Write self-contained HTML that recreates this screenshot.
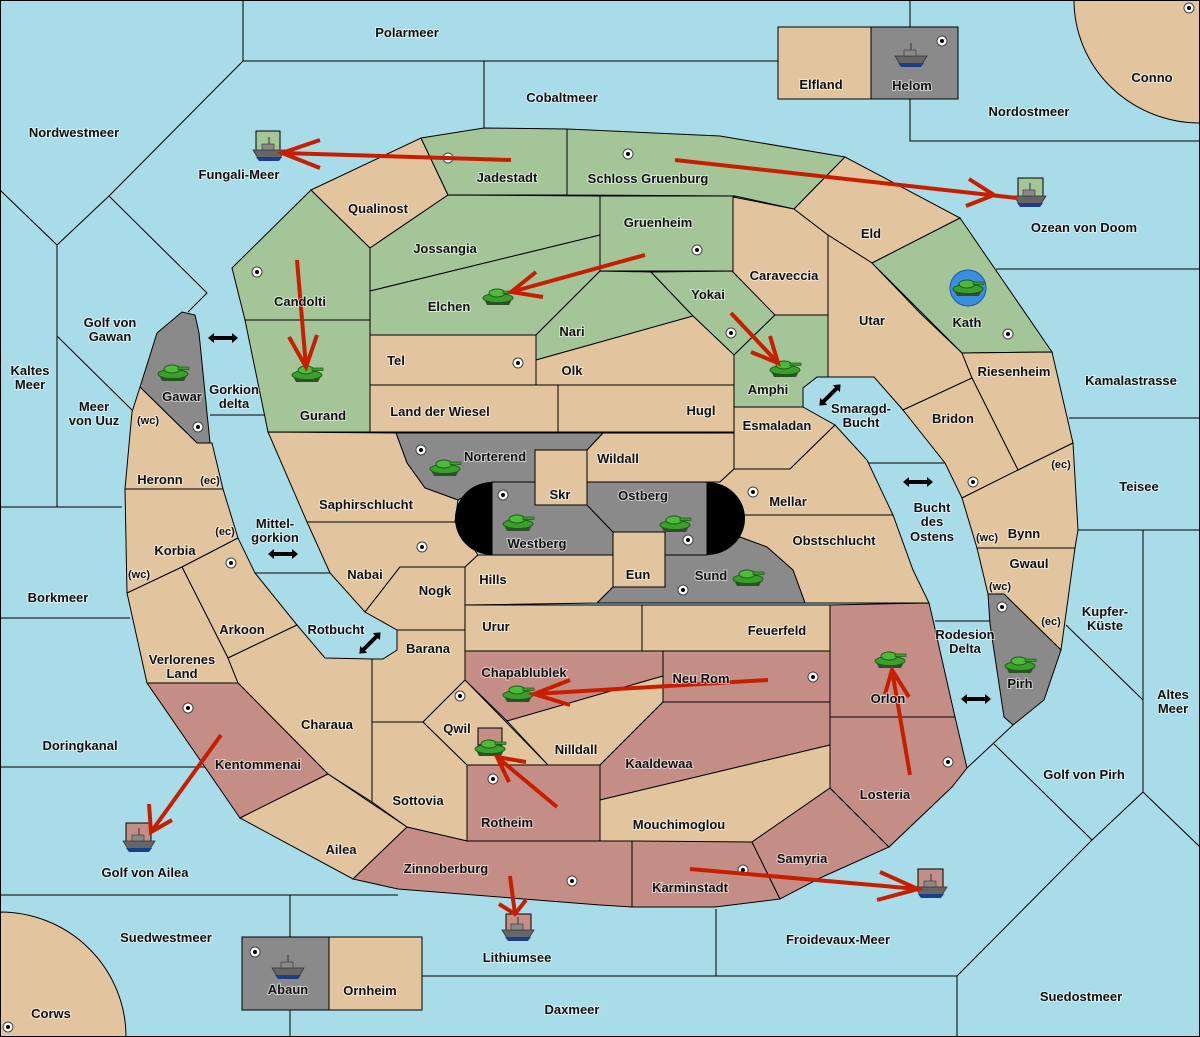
<!DOCTYPE html>
<html><head><meta charset="utf-8"><style>
html,body{margin:0;padding:0;background:#a9dce9}
svg{display:block}
text{font-family:"Liberation Sans",sans-serif;font-weight:bold;font-size:13px;fill:#111;text-anchor:middle;paint-order:stroke;stroke:rgba(255,255,255,0.55);stroke-width:2px}
.s{font-size:11px}
.l{stroke:#000;stroke-width:1;fill:none}
.t{fill:#e2c59e;stroke:#000;stroke-width:1}
.g{fill:#a3c598;stroke:#000;stroke-width:1}
.r{fill:#c48e86;stroke:#000;stroke-width:1}
.y{fill:#8a8a8a;stroke:#000;stroke-width:1}
.ar{stroke:#c81e00;stroke-width:4;fill:none;stroke-linecap:butt}
</style></head><body>
<svg width="1200" height="1037" viewBox="0 0 1200 1037" xmlns="http://www.w3.org/2000/svg">
<defs>
<g id="tank">
<path d="M-14,2 L14,2 L11,8 L-11,8 Z" fill="#2f4f2a"/>
<ellipse cx="0" cy="1" rx="15" ry="4.5" fill="#39a02c" stroke="#1f5a18" stroke-width="1"/>
<ellipse cx="-1" cy="-4" rx="8" ry="4" fill="#4cbb3a" stroke="#1f5a18" stroke-width="1"/>
<rect x="5" y="-6" width="11" height="2.5" fill="#3aa02c" stroke="#1f5a18" stroke-width="0.7"/>
</g>
<g id="ship">
<path d="M-16,0 L16,0 L11,8 L-11,8 Z" fill="#666" stroke="#333" stroke-width="0.8"/>
<path d="M-13,7 L13,7 L10,11 L-10,11 Z" fill="#1c3f8c"/>
<rect x="-7" y="-6" width="12" height="6" fill="#888" stroke="#333" stroke-width="0.6"/>
<line x1="0" y1="-13" x2="0" y2="-6" stroke="#333" stroke-width="1"/>
</g>
<g id="dot"><circle r="5" fill="#fff" stroke="#444" stroke-width="1"/><circle r="2" fill="#000"/></g>
<g id="da"><path d="M-15,0 L-9,-5 L-9,-2 L9,-2 L9,-5 L15,0 L9,5 L9,2 L-9,2 L-9,5 Z" fill="#000"/></g>
</defs>
<rect width="1200" height="1037" fill="#a9dce9"/>
<g class="l">
<path d="M243,0 V61 H778"/>
<path d="M243,61 L109,196 L57,245 L0,190"/>
<path d="M57,245 V507"/>
<path d="M109,196 L207,293 L188,312"/>
<path d="M57,336 L134,412"/>
<path d="M0,507 H122"/>
<path d="M0,618 H130"/>
<path d="M0,767 H205"/>
<path d="M0,895 H398"/>
<path d="M290,895 V937 M290,1010 V1037"/>
<path d="M422,976 H957 V1037"/>
<path d="M716,909 V976"/>
<path d="M484,61 V128"/>
<path d="M910,0 V27 M910,99 V141 H1200"/>
<path d="M996,269 H1200 M1069,418 H1200 M1078,530 H1200"/>
<path d="M1143,530 V792 L1200,847 M1143,792 L1092,840 L957,976 M1092,840 L994,744"/>
<path d="M1066,625 L1143,700"/>
<path d="M1013,725 L967,768"/>
<path d="M210,415 H266 M255,573 H330 M935,621 H990 M867,463 H945"/>
</g>
<path d="M1074,0 A126,123 0 0 0 1200,123 V0 Z" class="t"/>
<path d="M0,912 A126,125 0 0 1 126,1037 H0 Z" class="t"/>
<rect x="778" y="27" width="93" height="72" class="t"/>
<rect x="871" y="27" width="87" height="72" class="y"/>
<rect x="242" y="937" width="87" height="73" class="y"/>
<rect x="329" y="937" width="93" height="73" class="t"/>
<polygon class="g" points="232,268 311,190 370,248 370,320 245,320"/>
<polygon class="g" points="245,320 370,320 370,432 268,432"/>
<polygon class="t" points="311,190 421,138 448,195 370,248"/>
<polygon class="g" points="421,138 484,128 567,129 567,195 448,195"/>
<polygon class="g" points="567,129 720,136 845,157 794,209 735,196 567,195"/>
<polygon class="g" points="370,248 448,195 600,196 600,235 370,291"/>
<polygon class="g" points="370,291 600,235 600,271 536,335 370,335"/>
<polygon class="g" points="600,196 735,196 735,271 600,271"/>
<polygon class="g" points="600,271 651,272 693,316 536,360 536,335"/>
<polygon class="g" points="651,272 735,271 775,315 734,355 693,316"/>
<polygon class="g" points="734,355 775,315 828,315 828,377 817,377 803,388 803,407 734,407"/>
<polygon class="t" points="370,335 536,335 536,385 370,385"/>
<polygon class="t" points="536,360 693,316 734,355 734,385 536,385"/>
<polygon class="t" points="370,385 558,385 558,432 370,432"/>
<polygon class="t" points="558,385 734,385 734,432 558,432"/>
<polygon class="t" points="733,197 794,209 828,235 828,315 775,315 733,272"/>
<polygon class="t" points="794,209 845,157 960,218 872,263 828,235"/>
<polygon class="t" points="828,235 872,263 920,313 962,353 972,378 903,410 874,377 828,377"/>
<polygon class="g" points="872,263 960,218 1052,352 962,353"/>
<polygon class="t" points="962,353 1052,352 1073,443 1018,470 972,378"/>
<polygon class="t" points="903,410 972,378 1018,470 962,498 945,463"/>
<polygon class="t" points="962,498 1018,470 1073,443 1078,530 1075,548 977,548"/>
<polygon class="t" points="977,548 1075,548 1061,650 1004,594 988,594"/>
<polygon class="y" points="988,594 1004,594 1061,650 1044,700 1013,725 1004,717 990,624"/>
<polygon class="t" points="734,407 803,407 835,425 790,469 734,469"/>
<polygon class="t" points="587,450 603,433 734,433 734,469 720,482 587,482"/>
<polygon class="t" points="707,482 720,482 734,469 790,469 835,425 867,460 893,515 745,515 707,518"/>
<polygon class="t" points="707,518 745,515 893,515 913,570 929,603 805,603 793,570 767,547 740,537 707,555"/>
<polygon class="y" points="396,433 603,433 587,450 535,450 535,482 492,482 458,500 425,488 407,463"/>
<polygon class="t" points="268,432 396,433 407,463 425,488 458,500 455,522 307,522"/>
<polygon class="t" points="307,522 455,522 478,555 465,567 400,567 365,612 330,573"/>
<polygon class="t" points="400,567 465,567 465,630 397,630 365,612"/>
<polygon class="t" points="478,555 613,555 613,587 597,603 465,605 465,567"/>
<polygon class="y" points="492,482 535,482 535,505 587,505 613,532 613,555 492,555"/>
<polygon class="y" points="587,482 707,482 707,555 665,555 665,532 613,532 587,505"/>
<rect x="535" y="450" width="52" height="55" class="t"/>
<rect x="613" y="532" width="52" height="55" class="t"/>
<polygon class="y" points="613,587 597,603 805,603 793,570 767,547 740,537 707,555 665,555 665,587"/>
<path d="M492,482 A37,36.5 0 0 0 492,555 Z" fill="#000"/>
<path d="M707,482 A38,36.5 0 0 1 707,555 Z" fill="#000"/>
<polygon class="t" points="465,605 642,605 642,651 465,651"/>
<polygon class="t" points="642,605 830,605 830,651 642,651"/>
<polygon class="t" points="397,630 465,630 465,680 423,722 372,722 372,659 383,659 397,650"/>
<polygon class="y" points="157,333 182,312 195,315 199,333 210,443 197,443 140,387"/>
<polygon class="t" points="132,412 140,387 197,443 212,443 223,489 125,489"/>
<polygon class="t" points="125,489 223,489 238,538 182,567 127,593"/>
<polygon class="t" points="182,567 238,538 255,573 297,625 228,658"/>
<polygon class="t" points="127,593 182,567 228,658 238,683 147,683"/>
<polygon class="t" points="228,658 297,625 325,658 372,659 372,802 328,774 238,683"/>
<polygon class="r" points="147,683 238,683 328,774 240,818"/>
<polygon class="t" points="240,818 328,774 407,827 353,879"/>
<polygon class="t" points="372,722 423,722 467,765 467,841 407,827 372,802"/>
<polygon class="t" points="465,680 548,765 467,765 423,722"/>
<polygon class="r" points="465,651 663,651 663,676 507,721 465,680"/>
<polygon class="r" points="663,651 830,651 830,702 663,702"/>
<polygon class="t" points="507,721 663,676 663,702 600,765 548,765"/>
<polygon class="r" points="663,702 830,702 830,745 600,800 600,765"/>
<polygon class="r" points="467,765 600,765 600,841 467,841"/>
<polygon class="t" points="600,800 830,745 830,788 752,842 600,842"/>
<polygon class="r" points="353,879 407,827 467,841 632,841 632,907 600,905 398,889"/>
<polygon class="r" points="632,841 752,842 780,899 715,907 632,907"/>
<polygon class="r" points="752,842 830,788 889,847 820,878 780,899"/>
<polygon class="r" points="830,717 955,717 967,768 952,787 889,847 830,788"/>
<polygon class="r" points="830,605 929,603 933,620 955,717 830,717"/>
<rect x="478" y="728" width="24" height="17" class="r"/>
<rect x="256" y="131" width="24" height="24" class="g"/>
<rect x="1018" y="178" width="25" height="22" class="g"/>
<rect x="126" y="823" width="25" height="22" class="r"/>
<rect x="506" y="914" width="25" height="20" class="r"/>
<rect x="918" y="869" width="25" height="22" class="r"/>
<circle cx="968" cy="288" r="18" fill="#3c8ee0" stroke="#2255aa"/>
<use href="#dot" x="448" y="158"/><use href="#dot" x="628" y="154"/><use href="#dot" x="697" y="250"/>
<use href="#dot" x="257" y="272"/><use href="#dot" x="518" y="363"/><use href="#dot" x="731" y="333"/>
<use href="#dot" x="1008" y="334"/><use href="#dot" x="198" y="427"/><use href="#dot" x="421" y="450"/>
<use href="#dot" x="503" y="495"/><use href="#dot" x="688" y="540"/><use href="#dot" x="753" y="492"/>
<use href="#dot" x="683" y="590"/><use href="#dot" x="422" y="547"/><use href="#dot" x="231" y="563"/>
<use href="#dot" x="188" y="708"/><use href="#dot" x="460" y="696"/><use href="#dot" x="493" y="779"/>
<use href="#dot" x="813" y="677"/><use href="#dot" x="948" y="762"/><use href="#dot" x="572" y="881"/>
<use href="#dot" x="743" y="870"/><use href="#dot" x="973" y="482"/><use href="#dot" x="1002" y="607"/>
<use href="#dot" x="942" y="41"/><use href="#dot" x="1189" y="8"/><use href="#dot" x="255" y="952"/>
<use href="#dot" x="8" y="1027"/>
<use href="#tank" x="173" y="373"/><use href="#tank" x="307" y="374"/><use href="#tank" x="498" y="297"/>
<use href="#tank" x="785" y="369"/><use href="#tank" x="968" y="288"/><use href="#tank" x="445" y="468"/>
<use href="#tank" x="518" y="523"/><use href="#tank" x="675" y="524"/><use href="#tank" x="748" y="578"/>
<use href="#tank" x="518" y="694"/><use href="#tank" x="490" y="748"/><use href="#tank" x="890" y="660"/>
<use href="#tank" x="1020" y="665"/>
<use href="#ship" x="269" y="150"/><use href="#ship" x="1030" y="196"/><use href="#ship" x="911" y="56"/>
<use href="#ship" x="139" y="841"/><use href="#ship" x="518" y="930"/><use href="#ship" x="931" y="887"/>
<use href="#ship" x="288" y="968"/>
<g class="ar">
<path d="M511,160 L282,153 M320,140 L282,153 L320,168"/>
<path d="M675,160 L1017,198 M969,179 L994,195 L966,206"/>
<path d="M645,255 L511,292 M536,272 L511,292 L543,297"/>
<path d="M297,260 L306,367 M289,337 L306,367 L317,335"/>
<path d="M731,313 L778,363 M751,352 L778,363 L770,336"/>
<path d="M768,680 L534,694 M570,680 L534,694 L570,705"/>
<path d="M557,807 L497,757 M526,762 L497,757 L509,782"/>
<path d="M221,735 L151,832 M149,804 L151,832 L172,820"/>
<path d="M510,876 L515,914 M499,904 L515,914 L526,900"/>
<path d="M910,775 L892,670 M885,694 L892,670 L909,697"/>
<path d="M690,869 L918,889 M880,872 L918,889 L877,900"/>
</g>
<use href="#da" x="223" y="338"/><use href="#da" x="283" y="554"/><use href="#da" x="918" y="482"/><use href="#da" x="976" y="699"/>
<use href="#da" transform="translate(370,643) rotate(-45)"/><use href="#da" transform="translate(830,395) rotate(-45)"/>
<text x="407" y="37">Polarmeer</text><text x="562" y="102">Cobaltmeer</text><text x="821" y="89">Elfland</text>
<text x="912" y="90">Helom</text><text x="1152" y="82">Conno</text><text x="1029" y="116">Nordostmeer</text>
<text x="74" y="137">Nordwestmeer</text><text x="239" y="179">Fungali-Meer</text><text x="507" y="182">Jadestadt</text>
<text x="648" y="183">Schloss Gruenburg</text><text x="378" y="213">Qualinost</text><text x="1084" y="232">Ozean von Doom</text>
<text x="871" y="238">Eld</text><text x="445" y="253">Jossangia</text><text x="658" y="227">Gruenheim</text>
<text x="784" y="280">Caraveccia</text><text x="300" y="306">Candolti</text><text x="708" y="299">Yokai</text>
<text x="449" y="311">Elchen</text><text x="872" y="325">Utar</text><text x="967" y="327">Kath</text>
<text x="572" y="336">Nari</text><text x="110" y="327">Golf von</text><text x="110" y="341">Gawan</text>
<text x="30" y="375">Kaltes</text><text x="30" y="389">Meer</text><text x="768" y="394">Amphi</text>
<text x="396" y="365">Tel</text><text x="572" y="375">Olk</text><text x="1014" y="376">Riesenheim</text>
<text x="1131" y="385">Kamalastrasse</text><text x="182" y="401">Gawar</text><text x="234" y="394">Gorkion</text>
<text x="234" y="408">delta</text><text x="94" y="411">Meer</text><text x="94" y="425">von Uuz</text>
<text x="148" y="424" class="s">(wc)</text><text x="861" y="413">Smaragd-</text><text x="861" y="427">Bucht</text>
<text x="440" y="416">Land der Wiesel</text><text x="701" y="415">Hugl</text><text x="323" y="420">Gurand</text>
<text x="953" y="423">Bridon</text><text x="777" y="430">Esmaladan</text><text x="495" y="461">Norterend</text>
<text x="618" y="463">Wildall</text><text x="1061" y="468" class="s">(ec)</text><text x="160" y="484">Heronn</text>
<text x="210" y="484" class="s">(ec)</text><text x="1139" y="491">Teisee</text><text x="560" y="499">Skr</text>
<text x="643" y="500">Ostberg</text><text x="788" y="506">Mellar</text><text x="366" y="509">Saphirschlucht</text>
<text x="932" y="512">Bucht</text><text x="932" y="526">des</text><text x="932" y="541">Ostens</text>
<text x="275" y="528">Mittel-</text><text x="275" y="542">gorkion</text><text x="225" y="535" class="s">(ec)</text>
<text x="1024" y="538">Bynn</text><text x="987" y="541" class="s">(wc)</text><text x="537" y="548">Westberg</text>
<text x="834" y="545">Obstschlucht</text><text x="175" y="555">Korbia</text><text x="1029" y="568">Gwaul</text>
<text x="365" y="579">Nabai</text><text x="139" y="578" class="s">(wc)</text><text x="638" y="579">Eun</text>
<text x="711" y="580">Sund</text><text x="493" y="584">Hills</text><text x="1000" y="590" class="s">(wc)</text>
<text x="435" y="595">Nogk</text><text x="58" y="602">Borkmeer</text><text x="1105" y="616">Kupfer-</text>
<text x="1105" y="630">Küste</text><text x="496" y="631">Urur</text><text x="777" y="635">Feuerfeld</text>
<text x="242" y="634">Arkoon</text><text x="336" y="634">Rotbucht</text><text x="1051" y="625" class="s">(ec)</text>
<text x="965" y="639">Rodesion</text><text x="965" y="653">Delta</text><text x="428" y="653">Barana</text>
<text x="182" y="664">Verlorenes</text><text x="182" y="678">Land</text><text x="524" y="677">Chapablublek</text>
<text x="701" y="683">Neu Rom</text><text x="1020" y="688">Pirh</text><text x="888" y="703">Orlon</text>
<text x="1173" y="699">Altes</text><text x="1173" y="713">Meer</text><text x="327" y="729">Charaua</text>
<text x="457" y="733">Qwil</text><text x="80" y="750">Doringkanal</text><text x="576" y="754">Nilldall</text>
<text x="659" y="768">Kaaldewaa</text><text x="258" y="769">Kentommenai</text><text x="1084" y="779">Golf von Pirh</text>
<text x="885" y="799">Losteria</text><text x="418" y="805">Sottovia</text><text x="507" y="827">Rotheim</text>
<text x="679" y="829">Mouchimoglou</text><text x="341" y="854">Ailea</text><text x="802" y="863">Samyria</text>
<text x="446" y="873">Zinnoberburg</text><text x="145" y="877">Golf von Ailea</text><text x="690" y="892">Karminstadt</text>
<text x="166" y="942">Suedwestmeer</text><text x="838" y="944">Froidevaux-Meer</text><text x="517" y="962">Lithiumsee</text>
<text x="288" y="994">Abaun</text><text x="370" y="995">Ornheim</text><text x="1081" y="1001">Suedostmeer</text>
<text x="572" y="1014">Daxmeer</text><text x="51" y="1018">Corws</text>
<rect x="0.5" y="0.5" width="1199" height="1036" fill="none" stroke="#000"/>
</svg>
</body></html>
